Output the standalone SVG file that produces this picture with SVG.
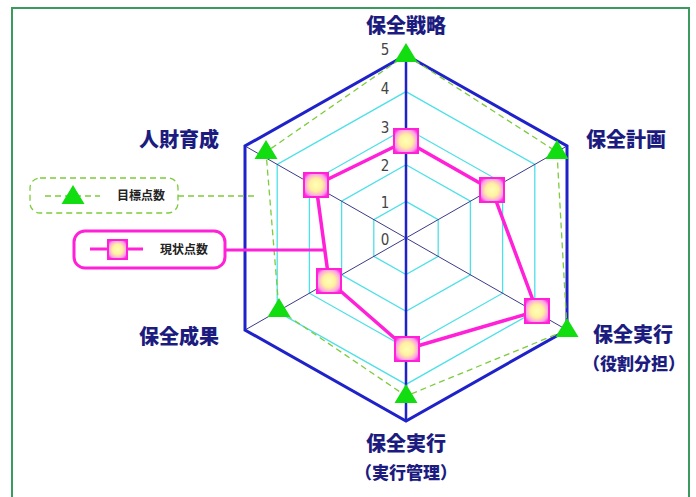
<svg xmlns="http://www.w3.org/2000/svg" width="696" height="497" viewBox="0 0 696 497">
<defs>
<style>
.lbl{font-family:"Noto Sans CJK JP","Noto Sans CJK SC",sans-serif;font-weight:900;font-size:20px;fill:#1c1c80;text-anchor:middle}
.sub{font-family:"Noto Sans CJK JP","Noto Sans CJK SC",sans-serif;font-weight:900;font-size:17px;fill:#1c1c80;text-anchor:middle}
.leg{font-family:"Noto Sans CJK JP","Noto Sans CJK SC",sans-serif;font-weight:700;font-size:12px;fill:#222}
.num{font-family:"DejaVu Sans Condensed","Liberation Sans",sans-serif;font-size:15px;fill:#444;text-anchor:middle}
.grid{fill:none;stroke:#4ee0e8;stroke-width:1.3}
.outer{fill:none;stroke:#1e22c8;stroke-width:3;stroke-linejoin:miter}
.diag{stroke:#3a3a8a;stroke-width:1}
.tgt{fill:none;stroke:#7ccc3c;stroke-width:1.3;stroke-dasharray:6 4}
.cur{fill:none;stroke:#ff20d8;stroke-width:3.5;stroke-linejoin:round}
.tri{fill:#11dd11}
</style>
<radialGradient id="sqg" cx="50%" cy="50%" r="60%">
<stop offset="0" stop-color="#ffffb8"/>
<stop offset="0.45" stop-color="#fff0a0"/>
<stop offset="0.8" stop-color="#ff9ee8"/>
<stop offset="1" stop-color="#ff30e0"/>
</radialGradient>
<path id="tri" d="M0,-12 L11.5,7 L-11.5,7 Z"/>
<rect id="sq" x="-12" y="-12" width="24" height="24" fill="url(#sqg)" stroke="#ff20d8" stroke-width="2"/>
</defs>
<rect x="0" y="0" width="696" height="497" fill="#fff"/>
<rect x="12" y="8" width="677" height="496" fill="none" stroke="#3c9a5f" stroke-width="2"/>

<g id="grid">
<polygon class="grid" points="406,201.4 438.2,219.6 438.2,256.4 406,274.6 373.8,256.4 373.8,219.6"/>
<polygon class="grid" points="406,164.8 470.4,201.2 470.4,274.8 406,311.2 341.6,274.8 341.6,201.2"/>
<polygon class="grid" points="406,128.2 502.6,182.8 502.6,293.2 406,347.8 309.4,293.2 309.4,182.8"/>
<polygon class="grid" points="406,91.6 534.8,164.4 534.8,311.6 406,384.4 277.2,311.6 277.2,164.4"/>
<line class="diag" x1="245" y1="146" x2="567" y2="330"/>
<line class="diag" x1="567" y1="146" x2="245" y2="330"/>
<polygon class="outer" points="406,55 567,146 567,330 406,421 245,330 245,146"/>
<line x1="406" y1="55" x2="406" y2="421" stroke="#1e22c8" stroke-width="2.5"/>
</g>

<g id="scale">
<text class="num" x="385" y="55">5</text>
<text class="num" x="385" y="94">4</text>
<text class="num" x="385" y="133">3</text>
<text class="num" x="385" y="171">2</text>
<text class="num" x="385" y="208">1</text>
<text class="num" x="385" y="245">0</text>
</g>

<g id="connectors">
<polygon class="tgt" points="406,55 557,152 567,330 406,396 279,310 266,152"/>
<line class="tgt" x1="178" y1="196" x2="256" y2="196"/>
<line x1="225" y1="250" x2="324" y2="250" stroke="#ff20d8" stroke-width="3"/>
<polygon class="cur" points="406,141 492,190 537,311 407,349 329,281 316,185"/>
</g>

<g id="target-markers">
<use href="#tri" class="tri" x="406" y="55"/>
<use href="#tri" class="tri" x="557" y="152"/>
<use href="#tri" class="tri" x="567" y="330"/>
<use href="#tri" class="tri" x="406" y="396"/>
<use href="#tri" class="tri" x="279" y="310"/>
<use href="#tri" class="tri" x="266" y="152"/>
</g>

<g id="current-markers">
<use href="#sq" x="406" y="141"/>
<use href="#sq" x="492" y="190"/>
<use href="#sq" x="537" y="311"/>
<use href="#sq" x="407" y="349"/>
<use href="#sq" x="329" y="281"/>
<use href="#sq" x="316" y="185"/>
</g>

<g id="label-strategy"><text class="lbl" x="406" y="33">保全戦略</text></g>
<g id="label-plan"><text class="lbl" x="626" y="147">保全計画</text></g>
<g id="label-exec-role"><text class="lbl" x="633" y="342">保全実行</text><text class="sub" x="634" y="370">（役割分担）</text></g>
<g id="label-exec-mgmt"><text class="lbl" x="406" y="451">保全実行</text><text class="sub" x="406" y="479">（実行管理）</text></g>
<g id="label-result"><text class="lbl" x="179" y="344">保全成果</text></g>
<g id="label-hr"><text class="lbl" x="179" y="147">人財育成</text></g>

<g id="legend-target">
<rect x="30" y="178" width="148" height="35" rx="10" fill="#fff" stroke="#7ccc3c" stroke-width="1.3" stroke-dasharray="6 4"/>
<line class="tgt" x1="45" y1="196" x2="100" y2="196"/>
<use href="#tri" class="tri" x="73" y="197"/>
<text class="leg" x="117" y="200">目標点数</text>
</g>
<g id="legend-current">
<rect x="74" y="231" width="151" height="37" rx="11" fill="#fff" stroke="#ff20d8" stroke-width="3"/>
<line x1="90" y1="249" x2="143" y2="249" stroke="#ff20d8" stroke-width="3"/>
<rect x="108" y="240" width="19" height="19" fill="url(#sqg)" stroke="#ff20d8" stroke-width="2"/>
<text class="leg" x="160" y="254">現状点数</text>
</g>
</svg>
